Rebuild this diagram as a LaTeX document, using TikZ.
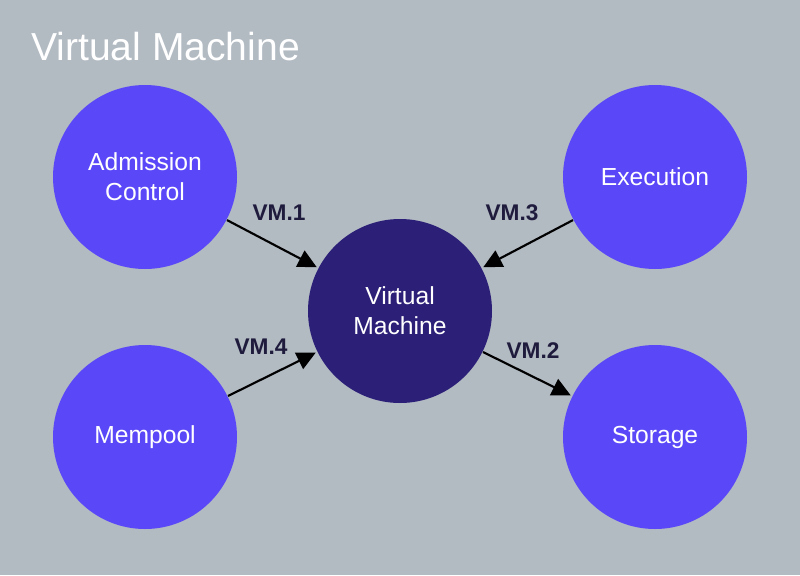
\documentclass[tikz,border=0pt]{standalone}
\usepackage{fontspec}
\setmainfont{Liberation Sans}
\usetikzlibrary{arrows.meta}
\definecolor{bgc}{HTML}{B2BAC2}
\definecolor{circc}{HTML}{5A48F8}
\definecolor{vmc}{HTML}{2B1F78}
\definecolor{labc}{HTML}{1F1B3D}
\tikzset{
  comp/.style={circle, fill=circc, minimum size=138pt, inner sep=0pt, outer sep=0pt, text=white, align=center, font=\fontsize{18.5}{22.5}\selectfont},
  core/.style={comp, fill=vmc},
  conn/.style={draw=black, line width=1.6pt, -{Triangle[length=14pt,width=13.5pt]}, shorten >=1.5pt, shorten <=0.5pt},
  lab/.style={text=labc, font=\bfseries\fontsize{17}{20}\selectfont}
}
\begin{document}
\begin{tikzpicture}[x=0.75pt,y=-0.75pt]
\fill[bgc] (0,0) rectangle (800,575);
\useasboundingbox (0,0) rectangle (800,575);
\node[anchor=base west, text=white, font=\fontsize{29.3}{34}\selectfont, inner sep=0pt] (title) at (31,60) {Virtual Machine};
\node[comp] (adm) at (145,177) {Admission\\Control};
\node[comp] (exe) at (655,177) {Execution};
\node[comp] (mem) at (145,437) {Mempool};
\node[comp] (sto) at (655,437) {Storage};
\node[core] (vm) at (400,311) {Virtual\\Machine};
\draw[conn] (adm) -- (vm);
\draw[conn] (exe) -- (vm);
\draw[conn] (mem) -- (vm);
\draw[conn] (vm) -- (sto);
\node[lab] (l1) at (279,213) {VM.1};
\node[lab] (l3) at (512,213) {VM.3};
\node[lab] (l4) at (261,347) {VM.4};
\node[lab] (l2) at (533,351) {VM.2};
\end{tikzpicture}
\end{document}
